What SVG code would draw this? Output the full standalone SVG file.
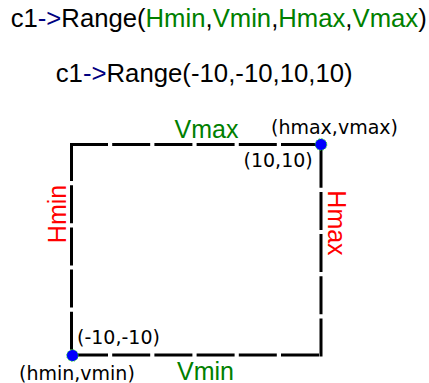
<svg xmlns="http://www.w3.org/2000/svg" width="429" height="383" viewBox="0 0 429 383">
  <style>
    .code { font-family: "Liberation Sans", Arial, sans-serif; font-size: 25.5px; fill: #000; }
    .arrow { fill: #000080; }
    .arg { fill: #008000; }
    .axis { font-family: "Liberation Sans", Arial, sans-serif; font-size: 25px; }
    .green { fill: #008000; }
    .red { fill: #ff0000; }
    .coord { font-family: "DejaVu Sans", sans-serif; font-size: 19px; fill: #000; }
    .edge { stroke: #000; stroke-width: 3; stroke-dasharray: 38 4.2; fill: none; }
    .corner { fill: #0000ff; stroke: #22dd22; stroke-width: 1; stroke-dasharray: 1.5 1.5; }
  </style>

  <!-- call signatures -->
  <g id="signature">
    <text class="code" x="10.7" y="26.7" textLength="416" lengthAdjust="spacingAndGlyphs">c1<tspan class="arrow">-&gt;</tspan>Range(<tspan class="arg">Hmin</tspan>,<tspan class="arg">Vmin</tspan>,<tspan class="arg">Hmax</tspan>,<tspan class="arg">Vmax</tspan>)</text>
  </g>
  <g id="example">
    <text class="code" x="55.7" y="81.7" textLength="297" lengthAdjust="spacingAndGlyphs">c1<tspan class="arrow">-&gt;</tspan>Range(-10,-10,10,10)</text>
  </g>

  <!-- dashed frame edges -->
  <g id="connectors">
    <line class="edge" x1="70" y1="144.5" x2="321" y2="144.5"/>
    <line class="edge" x1="71.5" y1="143" x2="71.5" y2="355"/>
    <line class="edge" x1="321" y1="356.5" x2="321" y2="144.5"/>
    <line class="edge" x1="70" y1="355" x2="322.5" y2="355"/>
  </g>

  <!-- axis labels -->
  <g id="label-vmax"><text class="axis green" x="206.5" y="138" text-anchor="middle">Vmax</text></g>
  <g id="label-vmin"><text class="axis green" x="205.5" y="379.5" text-anchor="middle">Vmin</text></g>
  <g id="label-hmin"><text class="axis red" x="66" y="214" text-anchor="middle" transform="rotate(-90 66 214)">Hmin</text></g>
  <g id="label-hmax"><text class="axis red" x="328.3" y="223" text-anchor="middle" transform="rotate(90 328.3 223)">Hmax</text></g>

  <!-- corner points -->
  <g id="corner-max">
    <circle class="corner" cx="321" cy="144.5" r="5.8"/>
    <text class="coord" x="271" y="134">(hmax,vmax)</text>
    <text class="coord" x="243.5" y="166.5">(10,10)</text>
  </g>
  <g id="corner-min">
    <circle class="corner" cx="72.5" cy="355.5" r="5.8"/>
    <text class="coord" x="77" y="344">(-10,-10)</text>
    <text class="coord" x="19" y="379.5">(hmin,vmin)</text>
  </g>
</svg>
